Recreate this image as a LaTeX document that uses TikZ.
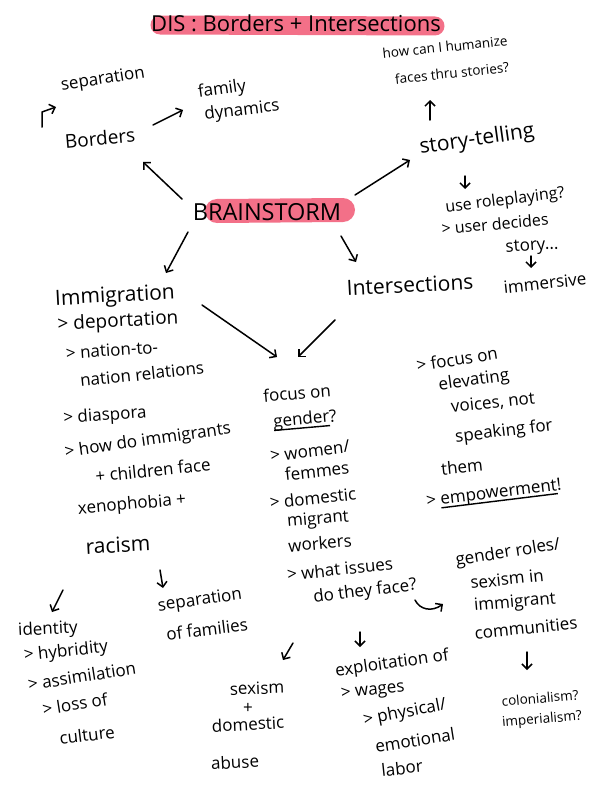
\documentclass[tikz,border=0pt]{standalone}
\usepackage{fontspec}
\setmainfont{Open Sans}
\usetikzlibrary{arrows.meta,calc,backgrounds}
\definecolor{pinkmark}{RGB}{243,112,136}
\newcommand{\penunder}[1]{\setbox0=\hbox{#1}\rlap{\rule[-4pt]{\wd0}{1.4pt}}\box0}
\tikzset{
  ink/.style={font=\fontsize{17}{18}\selectfont, inner sep=0pt},
  bigink/.style={font=\fontsize{21}{22}\selectfont, inner sep=0pt},
  smallink/.style={font=\fontsize{13.5}{14}\selectfont, inner sep=0pt},
  headline/.style={font=\fontsize{22}{23}\selectfont, inner sep=0pt},
  shout/.style={font=\fontsize{23.5}{24}\selectfont, inner sep=0pt},
  pen/.style={line width=1.5pt, line cap=round, line join=round,
    -{Straight Barb[length=5pt,width=10pt]}},
  marker/.style={line width=19pt, line cap=round, pinkmark}
}

\begin{document}
\begin{tikzpicture}[x=1pt, y=1pt]
  \useasboundingbox (0,0) rectangle (612,-792);

  % centre and title
  \node[headline] (title) at (296,-23) {DIS : Borders + Intersections};
  \node[shout] (brain) at (267,-212) {BRAINSTORM};

  % borders branch
  \node[ink, rotate=9] (sep) at (103,-80) {separation};
  \node[bigink, font=\fontsize{19}{20}\selectfont, rotate=5] (borders) at (100,-138) {Borders};
  \node[ink, rotate=8] (family) at (222,-90) {family};
  \node[ink, rotate=7] (dynamics) at (242,-111) {dynamics};

  % story-telling branch
  \node[smallink, rotate=6] (human) at (445,-47) {how can I humanize};
  \node[smallink, rotate=6] (faces) at (452,-73) {faces thru stories?};
  \node[bigink, rotate=8] (story) at (477,-140) {story-telling};
  \node[ink, font=\fontsize{16}{17}\selectfont, rotate=7] (role) at (505,-201) {use roleplaying?};
  \node[ink, font=\fontsize{16}{17}\selectfont, rotate=5] (user) at (495,-224) {> user decides};
  \node[ink, rotate=4] (storydots) at (532,-247) {story...};
  \node[ink, rotate=6] (immersive) at (545,-283) {immersive};

  % immigration branch
  \node[bigink, rotate=3] (immig) at (115,-297) {Immigration};
  \node[ink, font=\fontsize{19}{20}\selectfont, rotate=3] (deport) at (118,-322) {> deportation};
  \node[ink, rotate=4] (nation1) at (112,-350) {> nation-to-};
  \node[ink, rotate=6] (nation2) at (142,-374) {nation relations};
  \node[ink, rotate=4] (diaspora) at (105,-416) {> diaspora};
  \node[ink, rotate=8] (howdo) at (148,-441) {> how do immigrants};
  \node[ink, rotate=6] (children) at (153,-470) {+ children face};
  \node[ink, rotate=5] (xeno) at (132,-505) {xenophobia +};
  \node[ink, font=\fontsize{21}{22}\selectfont, rotate=3] (racism) at (118,-545) {racism};
  \node[ink, rotate=3] (identity) at (48,-630) {identity};
  \node[ink, rotate=6] (hybrid) at (66,-652) {> hybridity};
  \node[ink, rotate=9] (assim) at (82,-676) {> assimilation};
  \node[ink, rotate=9] (loss) at (75,-704) {> loss of};
  \node[ink, rotate=7] (culture) at (87,-735) {culture};
  \node[ink, rotate=8] (sepfam1) at (200,-601) {separation};
  \node[ink, rotate=7] (sepfam2) at (207,-629) {of families};

  % intersections branch
  \node[bigink, rotate=3] (inter) at (410,-285) {Intersections};
  \node[ink, rotate=5] (focus) at (297,-393) {focus on};
  \node[ink, rotate=5] (gender) at (305,-420) {\penunder{gender}?};
  \node[ink, rotate=7] (women) at (310,-451) {> women/};
  \node[ink, rotate=6] (femmes) at (317,-471) {femmes};
  \node[ink, rotate=6] (domestic) at (313,-498) {> domestic};
  \node[ink, rotate=5] (migrant) at (318,-520) {migrant};
  \node[ink, rotate=5] (workers) at (320,-543) {workers};
  \node[ink, rotate=6] (whatiss) at (340,-569) {> what issues};
  \node[ink, rotate=7] (doface) at (365,-592) {do they face?};
  \node[ink, rotate=9] (focus2) at (457,-359) {> focus on};
  \node[ink, rotate=8] (elev) at (474,-381) {elevating};
  \node[ink, rotate=6] (voices) at (493,-403) {voices, not};
  \node[ink, rotate=7] (speaking) at (504,-432) {speaking for};
  \node[ink, rotate=6] (them) at (462,-467) {them};
  \node[ink, rotate=7] (empower) at (494,-494) {> \penunder{empowerment}!};
  \node[ink, rotate=9] (groles) at (508,-553) {gender roles/};
  \node[ink, rotate=6] (sexin) at (507,-579) {sexism in};
  \node[ink, rotate=5] (immgr) at (515,-603) {immigrant};
  \node[ink, rotate=6] (commun) at (526,-628) {communities};
  \node[smallink, rotate=5] (colon) at (540,-698) {colonialism?};
  \node[smallink, rotate=5] (imper) at (542,-720) {imperialism?};
  \node[ink, rotate=8] (exploit) at (392,-664) {exploitation of};
  \node[ink, rotate=6] (wages) at (373,-692) {> wages};
  \node[ink, rotate=11] (phys) at (405,-713) {> physical/};
  \node[ink, rotate=9] (emot) at (415,-740) {emotional};
  \node[ink, rotate=6] (labor) at (402,-768) {labor};
  \node[ink, rotate=2] (sexism) at (257,-688) {sexism};
  \node[ink] (plus) at (248,-708) {+};
  \node[ink, rotate=3] (domab) at (248,-724) {domestic};
  \node[ink, rotate=3] (abuse) at (235,-762) {abuse};

  % paper and highlighter strokes
  \begin{pgfonlayer}{background}
    \fill[white] (0,0) rectangle (612,-792);
    \draw[marker] ($(title)+(-136,-2)$) -- ($(title)+(139,-3)$);
    \draw[marker, line width=24pt] ($(brain)+(-50,1)$) -- ($(brain)+(76,2)$);
  \end{pgfonlayer}

  % arrows out of the centre
  \draw[pen] ($(brain)+(-85,13)$) -- ($(borders)+(43,-24)$);
  \draw[pen] ($(brain)+(88,17)$) -- ($(story)+(-67,-20)$);
  \draw[pen] ($(brain)+(-79,-20)$) -- ($(immig)+(51,24)$);
  \draw[pen] ($(brain)+(74,-24)$) -- ($(inter)+(-54,23)$);

  % smaller arrows
  \draw[pen] ($(borders)+(53,13)$) -- ($(family)+(-39,-20)$);
  \draw[pen] ($(borders)+(-58,11)$) -- ($(borders)+(-58,26)$) -- ($(sep)+(-47,-27)$);
  \draw[pen] ($(story)+(-47,20)$) -- ($(faces)+(-22,-27)$);
  \draw[pen] ($(story)+(-12,-36)$) -- ($(role)+(-40,12)$);
  \draw[pen] ($(storydots)+(-1,-9)$) -- ($(immersive)+(-14,15)$);
  \draw[pen] ($(immig)+(87,-8)$) -- ($(focus)+(-20,36)$);
  \draw[pen] ($(inter)+(-75,-35)$) -- ($(focus)+(1,36)$);
  \draw[pen] ($(racism)+(42,-25)$) -- ($(sepfam1)+(-37,13)$);
  \draw[pen] ($(racism)+(-55,-45)$) -- ($(identity)+(4,18)$);
  \draw[pen] ($(doface)+(-72,-51)$) -- ($(sexism)+(26,28)$);
  \draw[pen] ($(doface)+(-5,-40)$) -- ($(exploit)+(-32,17)$);
  \draw[pen] ($(doface)+(50,-8)$) .. controls ($(doface)+(55,-18)$) and ($(sexin)+(-75,-33)$) .. ($(sexin)+(-64,-25)$);
  \draw[pen] ($(commun)+(1,-24)$) -- ($(colon)+(-13,28)$);
\end{tikzpicture}
\end{document}
